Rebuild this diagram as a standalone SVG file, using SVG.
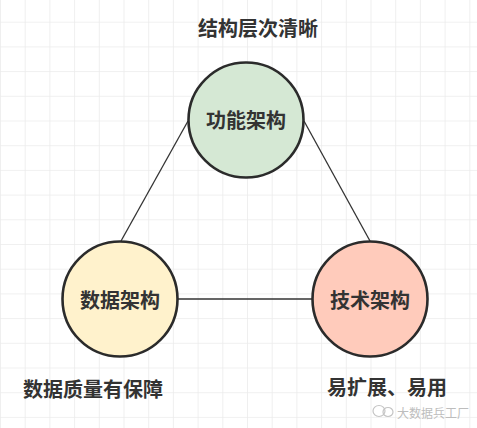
<svg xmlns="http://www.w3.org/2000/svg" width="477" height="428" viewBox="0 0 477 428">
  <defs>
    <pattern id="grid" x="0" y="21.7" width="24.7" height="24.7" patternUnits="userSpaceOnUse">
      <path d="M0 0H24.7M0 0V24.7" fill="none" stroke="#ebebeb" stroke-width="1.6"/>
    </pattern>
    <style>
      .node circle { stroke: #2b2b2b; stroke-width: 2.6; }
      .label { font-family: "Noto Sans CJK SC", "Noto Sans", sans-serif; font-weight: bold; font-size: 20px; fill: #333333; text-anchor: middle; dominant-baseline: central; }
      .edge { stroke: #333333; stroke-width: 1.3; fill: none; }
      .wm { font-family: "Noto Sans CJK SC", "Noto Sans", sans-serif; font-size: 12px; fill: #bdbdbd; dominant-baseline: central; }
    </style>
  </defs>
  <rect width="477" height="428" fill="#ffffff"/>
  <rect width="477" height="428" fill="url(#grid)"/>

  <g id="connectors">
    <line class="edge" x1="188" y1="121" x2="121" y2="241"/>
    <line class="edge" x1="304" y1="121" x2="370" y2="241"/>
    <line class="edge" x1="178" y1="299" x2="312" y2="299"/>
  </g>

  <g id="node-function" class="node">
    <circle cx="246" cy="120" r="57.5" fill="#d5e8d4"/>
    <text class="label" x="246" y="119">功能架构</text>
  </g>
  <g id="node-data" class="node">
    <circle cx="120" cy="299" r="57.5" fill="#fff2cc"/>
    <text class="label" x="120" y="299">数据架构</text>
  </g>
  <g id="node-tech" class="node">
    <circle cx="370" cy="299" r="57.5" fill="#ffcbbb"/>
    <text class="label" x="370" y="299">技术架构</text>
  </g>

  <g id="annotations">
    <text class="label" x="258" y="27">结构层次清晰</text>
    <text class="label" x="93" y="388">数据质量有保障</text>
    <text class="label" x="387" y="386">易扩展、易用</text>
  </g>

  <g id="watermark">
    <ellipse cx="379" cy="411" rx="6" ry="5.5" fill="none" stroke="#c4c4c4" stroke-width="1.2"/>
    <ellipse cx="388" cy="412" rx="5" ry="4.5" fill="none" stroke="#c4c4c4" stroke-width="1.2"/>
    <text class="wm" x="397" y="412">大数据兵工厂</text>
  </g>
</svg>
